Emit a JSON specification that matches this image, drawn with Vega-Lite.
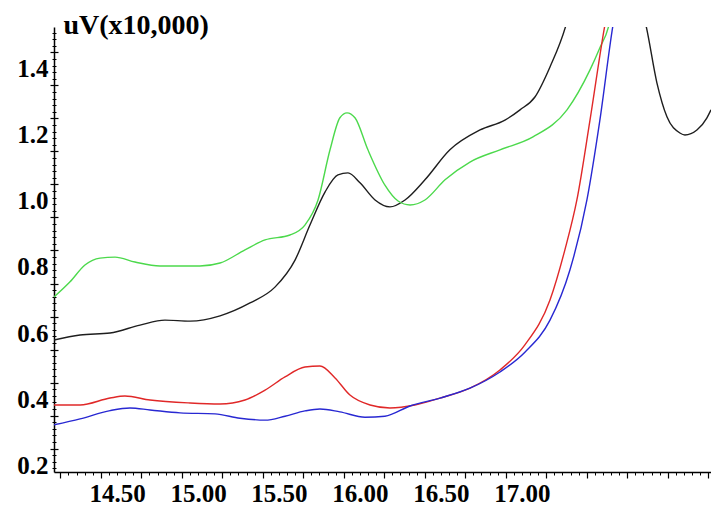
{
  "$schema": "https://vega.github.io/schema/vega-lite/v6.json",
  "width": 657,
  "height": 445,
  "autosize": {"type": "none"},
  "padding": {"left": 54, "top": 27, "right": 0, "bottom": 36},
  "background": "white",
  "config": {
    "view": {"stroke": null},
    "axis": {"domainColor": "black", "tickColor": "black", "labelColor": "black", "labelFont": "Liberation Serif", "labelFontWeight": "bold", "grid": false, "title": null, "labelOverlap": false, "labelFlush": false}
  },
  "data": {"values": [
    {"s": "black", "t": 14.111, "v": 0.579},
    {"s": "black", "t": 14.272, "v": 0.594},
    {"s": "black", "t": 14.457, "v": 0.600},
    {"s": "black", "t": 14.642, "v": 0.624},
    {"s": "black", "t": 14.796, "v": 0.639},
    {"s": "black", "t": 14.951, "v": 0.636},
    {"s": "black", "t": 15.136, "v": 0.652},
    {"s": "black", "t": 15.321, "v": 0.691},
    {"s": "black", "t": 15.475, "v": 0.739},
    {"s": "black", "t": 15.599, "v": 0.821},
    {"s": "black", "t": 15.691, "v": 0.927},
    {"s": "black", "t": 15.784, "v": 1.027},
    {"s": "black", "t": 15.864, "v": 1.079},
    {"s": "black", "t": 15.926, "v": 1.085},
    {"s": "black", "t": 16.0, "v": 1.055},
    {"s": "black", "t": 16.093, "v": 1.003},
    {"s": "black", "t": 16.185, "v": 0.982},
    {"s": "black", "t": 16.278, "v": 1.003},
    {"s": "black", "t": 16.401, "v": 1.064},
    {"s": "black", "t": 16.555, "v": 1.155},
    {"s": "black", "t": 16.741, "v": 1.215},
    {"s": "black", "t": 16.895, "v": 1.245},
    {"s": "black", "t": 16.988, "v": 1.276},
    {"s": "black", "t": 17.08, "v": 1.315},
    {"s": "black", "t": 17.173, "v": 1.406},
    {"s": "black", "t": 17.272, "v": 1.533},
    {"s": "black", "t": 17.331, "v": 1.65},
    {"s": "black", "t": 17.689, "v": 1.65},
    {"s": "black", "t": 17.765, "v": 1.533},
    {"s": "black", "t": 17.833, "v": 1.358},
    {"s": "black", "t": 17.895, "v": 1.255},
    {"s": "black", "t": 17.975, "v": 1.206},
    {"s": "black", "t": 18.006, "v": 1.200},
    {"s": "black", "t": 18.08, "v": 1.215},
    {"s": "black", "t": 18.142, "v": 1.252},
    {"s": "black", "t": 18.167, "v": 1.276},
    {"s": "green", "t": 14.111, "v": 0.709},
    {"s": "green", "t": 14.21, "v": 0.755},
    {"s": "green", "t": 14.302, "v": 0.806},
    {"s": "green", "t": 14.395, "v": 0.827},
    {"s": "green", "t": 14.488, "v": 0.830},
    {"s": "green", "t": 14.611, "v": 0.815},
    {"s": "green", "t": 14.765, "v": 0.803},
    {"s": "green", "t": 15.012, "v": 0.803},
    {"s": "green", "t": 15.136, "v": 0.812},
    {"s": "green", "t": 15.29, "v": 0.852},
    {"s": "green", "t": 15.414, "v": 0.882},
    {"s": "green", "t": 15.568, "v": 0.897},
    {"s": "green", "t": 15.66, "v": 0.927},
    {"s": "green", "t": 15.741, "v": 1.003},
    {"s": "green", "t": 15.815, "v": 1.155},
    {"s": "green", "t": 15.876, "v": 1.252},
    {"s": "green", "t": 15.92, "v": 1.267},
    {"s": "green", "t": 15.969, "v": 1.252},
    {"s": "green", "t": 16.049, "v": 1.155},
    {"s": "green", "t": 16.154, "v": 1.048},
    {"s": "green", "t": 16.235, "v": 1.000},
    {"s": "green", "t": 16.309, "v": 0.988},
    {"s": "green", "t": 16.401, "v": 1.003},
    {"s": "green", "t": 16.525, "v": 1.064},
    {"s": "green", "t": 16.679, "v": 1.118},
    {"s": "green", "t": 16.864, "v": 1.155},
    {"s": "green", "t": 17.068, "v": 1.194},
    {"s": "green", "t": 17.278, "v": 1.276},
    {"s": "green", "t": 17.42, "v": 1.397},
    {"s": "green", "t": 17.481, "v": 1.464},
    {"s": "green", "t": 17.537, "v": 1.533},
    {"s": "green", "t": 17.57, "v": 1.62},
    {"s": "red", "t": 14.111, "v": 0.382},
    {"s": "red", "t": 14.272, "v": 0.382},
    {"s": "red", "t": 14.457, "v": 0.403},
    {"s": "red", "t": 14.549, "v": 0.409},
    {"s": "red", "t": 14.704, "v": 0.397},
    {"s": "red", "t": 14.951, "v": 0.388},
    {"s": "red", "t": 15.136, "v": 0.385},
    {"s": "red", "t": 15.29, "v": 0.397},
    {"s": "red", "t": 15.414, "v": 0.427},
    {"s": "red", "t": 15.537, "v": 0.467},
    {"s": "red", "t": 15.66, "v": 0.497},
    {"s": "red", "t": 15.753, "v": 0.500},
    {"s": "red", "t": 15.846, "v": 0.464},
    {"s": "red", "t": 15.938, "v": 0.412},
    {"s": "red", "t": 16.062, "v": 0.382},
    {"s": "red", "t": 16.185, "v": 0.373},
    {"s": "red", "t": 16.339, "v": 0.382},
    {"s": "red", "t": 16.494, "v": 0.403},
    {"s": "red", "t": 16.679, "v": 0.433},
    {"s": "red", "t": 16.864, "v": 0.488},
    {"s": "red", "t": 17.018, "v": 0.564},
    {"s": "red", "t": 17.173, "v": 0.700},
    {"s": "red", "t": 17.265, "v": 0.852},
    {"s": "red", "t": 17.339, "v": 1.003},
    {"s": "red", "t": 17.42, "v": 1.245},
    {"s": "red", "t": 17.512, "v": 1.533},
    {"s": "red", "t": 17.546, "v": 1.62},
    {"s": "blue", "t": 14.111, "v": 0.322},
    {"s": "blue", "t": 14.272, "v": 0.340},
    {"s": "blue", "t": 14.457, "v": 0.365},
    {"s": "blue", "t": 14.58, "v": 0.373},
    {"s": "blue", "t": 14.704, "v": 0.367},
    {"s": "blue", "t": 14.889, "v": 0.358},
    {"s": "blue", "t": 15.105, "v": 0.355},
    {"s": "blue", "t": 15.259, "v": 0.342},
    {"s": "blue", "t": 15.414, "v": 0.336},
    {"s": "blue", "t": 15.537, "v": 0.348},
    {"s": "blue", "t": 15.66, "v": 0.364},
    {"s": "blue", "t": 15.753, "v": 0.370},
    {"s": "blue", "t": 15.876, "v": 0.361},
    {"s": "blue", "t": 16.031, "v": 0.345},
    {"s": "blue", "t": 16.154, "v": 0.348},
    {"s": "blue", "t": 16.309, "v": 0.379},
    {"s": "blue", "t": 16.494, "v": 0.403},
    {"s": "blue", "t": 16.679, "v": 0.433},
    {"s": "blue", "t": 16.864, "v": 0.482},
    {"s": "blue", "t": 17.018, "v": 0.542},
    {"s": "blue", "t": 17.173, "v": 0.639},
    {"s": "blue", "t": 17.296, "v": 0.791},
    {"s": "blue", "t": 17.401, "v": 1.003},
    {"s": "blue", "t": 17.481, "v": 1.245},
    {"s": "blue", "t": 17.562, "v": 1.533},
    {"s": "blue", "t": 17.593, "v": 1.62}
  ]},
  "layer": [
    {
      "mark": {"type": "line", "interpolate": "monotone", "clip": true, "strokeWidth": 1.4},
      "encoding": {
        "x": {"field": "t", "type": "quantitative", "scale": {"domain": [14.111, 18.167], "nice": false, "zero": false},
          "axis": {"values": [14.5, 15, 15.5, 16, 16.5, 17], "format": ".2f", "ticks": false, "labelFontSize": 25, "labelPadding": 9, "domainWidth": 1.5}},
        "y": {"field": "v", "type": "quantitative", "scale": {"domain": [0.179, 1.527], "nice": false, "zero": false},
          "axis": {"values": [0.2, 0.4, 0.6, 0.8, 1.0, 1.2, 1.4], "format": ".1f", "ticks": false, "labelFontSize": 25, "labelPadding": 6, "domainWidth": 1.5,
            "title": "uV(x10,000)", "titleAngle": 0, "titleAlign": "left", "titleBaseline": "alphabetic", "titleX": 9, "titleY": 6, "titleFont": "Liberation Serif", "titleFontWeight": "bold", "titleFontSize": 28, "titleColor": "black"}},
        "color": {"field": "s", "type": "nominal", "scale": {"domain": ["black", "green", "red", "blue"], "range": ["#1e1e1e", "#4cd94c", "#e02828", "#2828d2"]}, "legend": null}
      }
    },
    {
      "mark": {"type": "line", "opacity": 0},
      "encoding": {
        "x": {"field": "t", "type": "quantitative", "axis": {"orient": "bottom", "values": [14.15, 14.4, 14.65, 14.9, 15.15, 15.4, 15.65, 15.9, 16.15, 16.4, 16.65, 16.9, 17.15, 17.4, 17.65, 17.9, 18.15], "labels": false, "domain": false, "tickSize": 6, "tickWidth": 1.2}},
        "y": {"field": "v", "type": "quantitative", "axis": {"orient": "left", "values": [0.25, 0.35, 0.45, 0.55, 0.65, 0.75, 0.85, 0.95, 1.05, 1.15, 1.25, 1.35, 1.45], "labels": false, "domain": false, "tickSize": 4, "tickWidth": 1.2}},
        "detail": {"field": "s"}
      }
    },
    {
      "mark": {"type": "line", "opacity": 0},
      "encoding": {
        "x": {"field": "t", "type": "quantitative", "axis": {"orient": "bottom", "values": [14.15, 14.2, 14.25, 14.3, 14.35, 14.4, 14.45, 14.5, 14.55, 14.6, 14.65, 14.7, 14.75, 14.8, 14.85, 14.9, 14.95, 15.0, 15.05, 15.1, 15.15, 15.2, 15.25, 15.3, 15.35, 15.4, 15.45, 15.5, 15.55, 15.6, 15.65, 15.7, 15.75, 15.8, 15.85, 15.9, 15.95, 16.0, 16.05, 16.1, 16.15, 16.2, 16.25, 16.3, 16.35, 16.4, 16.45, 16.5, 16.55, 16.6, 16.65, 16.7, 16.75, 16.8, 16.85, 16.9, 16.95, 17.0, 17.05, 17.1, 17.15, 17.2, 17.25, 17.3, 17.35, 17.4, 17.45, 17.5, 17.55, 17.6, 17.65, 17.7, 17.75, 17.8, 17.85, 17.9, 17.95, 18.0, 18.05, 18.1, 18.15], "labels": false, "domain": false, "tickSize": 3}},
        "y": {"field": "v", "type": "quantitative", "axis": {"orient": "left", "values": [0.19, 0.21, 0.23, 0.25, 0.27, 0.29, 0.31, 0.33, 0.35, 0.37, 0.39, 0.41, 0.43, 0.45, 0.47, 0.49, 0.51, 0.53, 0.55, 0.57, 0.59, 0.61, 0.63, 0.65, 0.67, 0.69, 0.71, 0.73, 0.75, 0.77, 0.79, 0.81, 0.83, 0.85, 0.87, 0.89, 0.91, 0.93, 0.95, 0.97, 0.99, 1.01, 1.03, 1.05, 1.07, 1.09, 1.11, 1.13, 1.15, 1.17, 1.19, 1.21, 1.23, 1.25, 1.27, 1.29, 1.31, 1.33, 1.35, 1.37, 1.39, 1.41, 1.43, 1.45, 1.47, 1.49, 1.51], "labels": false, "domain": false, "tickSize": 2}},
        "detail": {"field": "s"}
      }
    },
    {
      "mark": {"type": "line", "opacity": 0},
      "encoding": {
        "x": {"field": "t", "type": "quantitative", "axis": null},
        "y": {"field": "v", "type": "quantitative", "axis": {"orient": "left", "values": [0.25, 0.35, 0.45, 0.55, 0.65, 0.75, 0.85, 0.95, 1.05, 1.15, 1.25, 1.35, 1.45], "labels": false, "domain": false, "tickSize": -4, "tickWidth": 1.2}},
        "detail": {"field": "s"}
      }
    },
    {
      "mark": {"type": "line", "opacity": 0},
      "encoding": {
        "x": {"field": "t", "type": "quantitative", "axis": null},
        "y": {"field": "v", "type": "quantitative", "axis": {"orient": "left", "values": [0.19, 0.21, 0.23, 0.25, 0.27, 0.29, 0.31, 0.33, 0.35, 0.37, 0.39, 0.41, 0.43, 0.45, 0.47, 0.49, 0.51, 0.53, 0.55, 0.57, 0.59, 0.61, 0.63, 0.65, 0.67, 0.69, 0.71, 0.73, 0.75, 0.77, 0.79, 0.81, 0.83, 0.85, 0.87, 0.89, 0.91, 0.93, 0.95, 0.97, 0.99, 1.01, 1.03, 1.05, 1.07, 1.09, 1.11, 1.13, 1.15, 1.17, 1.19, 1.21, 1.23, 1.25, 1.27, 1.29, 1.31, 1.33, 1.35, 1.37, 1.39, 1.41, 1.43, 1.45, 1.47, 1.49, 1.51], "labels": false, "domain": false, "tickSize": -2}},
        "detail": {"field": "s"}
      }
    }
  ],
  "resolve": {"axis": {"x": "independent", "y": "independent"}}
}
